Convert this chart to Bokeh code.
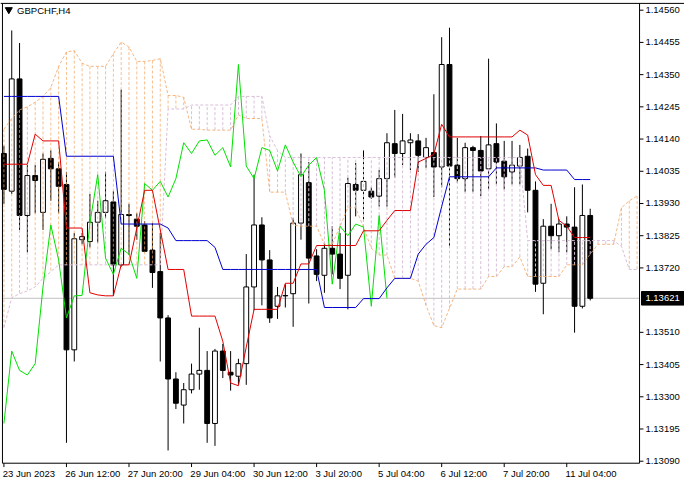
from bokeh.plotting import figure
from bokeh.models import ColumnDataSource, Range1d
from bokeh.core.properties import value
from bokeh.embed import file_html
from bokeh.resources import INLINE

symbol = "GBPCHF,H4"
time_labels = {0: "23 Jun 2023", 8: "26 Jun 12:00", 16: "27 Jun 20:00", 24: "29 Jun 04:00",
               32: "30 Jun 12:00", 40: "3 Jul 20:00", 48: "5 Jul 04:00", 56: "6 Jul 12:00",
               64: "7 Jul 20:00", 72: "11 Jul 04:00"}
price_ticks = [1.13090, 1.13195, 1.13300, 1.13405, 1.13510, 1.13720, 1.13825, 1.13930,
               1.14035, 1.14140, 1.14245, 1.14350, 1.14455, 1.14560]

opens = [1.14093, 1.13970, 1.14336, 1.13891, 1.14021, 1.13901, 1.14077, 1.14043, 1.13992, 1.13453,
         1.13812, 1.13806, 1.13869, 1.13901, 1.13935, 1.13730, 1.13894, 1.13879, 1.13860, 1.13778,
         1.13708, 1.13557, 1.13358, 1.13273, 1.13323, 1.13374, 1.13386, 1.13213, 1.13449, 1.13380,
         1.13367, 1.13408, 1.13658, 1.13860, 1.13746, 1.13595, 1.13629, 1.13636, 1.13866, 1.13998,
         1.13759, 1.13696, 1.13784, 1.13765, 1.13696, 1.13992, 1.13973, 1.13970, 1.13954, 1.14011,
         1.14125, 1.14093, 1.14128, 1.14134, 1.14080, 1.14096, 1.14049, 1.14383, 1.14055, 1.14011,
         1.14112, 1.14103, 1.14043, 1.14125, 1.14068, 1.14033, 1.14052, 1.14084, 1.13973, 1.13670,
         1.13856, 1.13825, 1.13863, 1.13853, 1.13595, 1.13891]
highs = [1.14118, 1.14494, 1.14453, 1.14055, 1.14055, 1.14093, 1.14103, 1.14065, 1.14033, 1.13834,
         1.13834, 1.13961, 1.13939, 1.14033, 1.13970, 1.14301, 1.13929, 1.13898, 1.13872, 1.13866,
         1.13834, 1.13566, 1.13380, 1.13345, 1.13408, 1.13525, 1.13449, 1.13456, 1.13472, 1.13449,
         1.13424, 1.13765, 1.14024, 1.13885, 1.13778, 1.13658, 1.13667, 1.13882, 1.14093, 1.14065,
         1.13781, 1.13803, 1.13856, 1.13834, 1.14014, 1.14062, 1.14103, 1.13983, 1.14039, 1.14159,
         1.14235, 1.14222, 1.14159, 1.14156, 1.14144, 1.14286, 1.14472, 1.14503, 1.14144, 1.14128,
         1.14118, 1.14150, 1.14402, 1.14191, 1.14134, 1.14134, 1.14121, 1.14109, 1.14002, 1.13879,
         1.13929, 1.13879, 1.13888, 1.13983, 1.13992, 1.13913]
lows = [1.13929, 1.13961, 1.13844, 1.13771, 1.13898, 1.13844, 1.13939, 1.13898, 1.13150, 1.13415,
        1.13797, 1.13787, 1.13803, 1.13882, 1.13629, 1.13724, 1.13762, 1.13812, 1.13771, 1.13655,
        1.13415, 1.13125, 1.13260, 1.13213, 1.13311, 1.13323, 1.13150, 1.13140, 1.13361, 1.13320,
        1.13339, 1.13339, 1.13582, 1.13598, 1.13541, 1.13554, 1.13591, 1.13528, 1.13812, 1.13604,
        1.13677, 1.13639, 1.13699, 1.13651, 1.13585, 1.13888, 1.13875, 1.13945, 1.13920, 1.13920,
        1.14014, 1.14055, 1.14039, 1.14033, 1.14046, 1.13951, 1.13983, 1.13787, 1.13998, 1.13967,
        1.13967, 1.13954, 1.13976, 1.13992, 1.13976, 1.13992, 1.13992, 1.13901, 1.13642, 1.13569,
        1.13781, 1.13771, 1.13771, 1.13509, 1.13588, 1.13614]
closes = [1.13976, 1.14336, 1.13891, 1.14021, 1.14005, 1.14074, 1.14043, 1.13986, 1.13453, 1.13815,
          1.13822, 1.13869, 1.13901, 1.13939, 1.13730, 1.13894, 1.13891, 1.13856, 1.13774, 1.13705,
          1.13557, 1.13358, 1.13279, 1.13323, 1.13374, 1.13386, 1.13213, 1.13449, 1.13386, 1.13371,
          1.13408, 1.13658, 1.13860, 1.13746, 1.13557, 1.13629, 1.13630, 1.13866, 1.14024, 1.13752,
          1.13699, 1.13784, 1.13765, 1.13686, 1.13995, 1.13973, 1.14002, 1.13951, 1.14011, 1.14128,
          1.14093, 1.14134, 1.14137, 1.14087, 1.14112, 1.14049, 1.14383, 1.14052, 1.14011, 1.14112,
          1.14103, 1.14036, 1.14121, 1.14065, 1.14017, 1.14055, 1.14080, 1.13973, 1.13667, 1.13856,
          1.13825, 1.13863, 1.13853, 1.13595, 1.13891, 1.13621]

tenkan = [1.14058, 1.14058, 1.14058, 1.14058, 1.14156, 1.14134, 1.14134, 1.14134, 1.13850, 1.13850,
          1.13850, 1.13639, 1.13632, 1.13629, 1.13629, 1.13730, 1.13730, 1.13850, 1.13973, 1.13973,
          1.13844, 1.13715, 1.13715, 1.13715, 1.13563, 1.13563, 1.13563, 1.13563, 1.13481, 1.13345,
          1.13336, 1.13462, 1.13585, 1.13585, 1.13585, 1.13585, 1.13670, 1.13670, 1.13733, 1.13733,
          1.13793, 1.13793, 1.13793, 1.13793, 1.13793, 1.13793, 1.13841, 1.13841, 1.13841, 1.13875,
          1.13907, 1.13907, 1.13907, 1.14065, 1.14077, 1.14090, 1.14188, 1.14147, 1.14147, 1.14147,
          1.14147, 1.14147, 1.14147, 1.14147, 1.14147, 1.14147, 1.14169, 1.14153, 1.14024, 1.13989,
          1.13989, 1.13875, 1.13856, 1.13819, 1.13819, 1.13819]
kijun = [1.14279, 1.14279, 1.14279, 1.14279, 1.14279, 1.14279, 1.14279, 1.14279, 1.14084, 1.14084,
         1.14084, 1.14084, 1.14084, 1.14084, 1.14084, 1.13863, 1.13863, 1.13863, 1.13863, 1.13863,
         1.13863, 1.13850, 1.13809, 1.13809, 1.13809, 1.13809, 1.13809, 1.13787, 1.13715, 1.13715,
         1.13715, 1.13715, 1.13715, 1.13715, 1.13715, 1.13715, 1.13715, 1.13715, 1.13715, 1.13715,
         1.13715, 1.13591, 1.13591, 1.13591, 1.13591, 1.13591, 1.13620, 1.13620, 1.13620, 1.13655,
         1.13686, 1.13686, 1.13686, 1.13765, 1.13797, 1.13819, 1.13920, 1.14017, 1.14017, 1.14017,
         1.14017, 1.14017, 1.14017, 1.14046, 1.14046, 1.14046, 1.14046, 1.14046, 1.14046, 1.14039,
         1.14039, 1.14039, 1.14039, 1.14008, 1.14008, 1.14008]
senkou_a = [1.14172, 1.14207, 1.14235, 1.14245, 1.14260, 1.14279, 1.14308, 1.14377, 1.14424, 1.14428,
            1.14387, 1.14377, 1.14377, 1.14377, 1.14418, 1.14456, 1.14440, 1.14393, 1.14393, 1.14396,
            1.14402, 1.14282, 1.14282, 1.14276, 1.14172, 1.14172, 1.14169, 1.14169, 1.14169, 1.14169,
            1.14219, 1.14207, 1.14207, 1.14207, 1.13967, 1.13967, 1.13967, 1.13860, 1.13856, 1.13856,
            1.13856, 1.13797, 1.13797, 1.13856, 1.13916, 1.13916, 1.13853, 1.13784, 1.13762, 1.13762,
            1.13686, 1.13686, 1.13686, 1.13677, 1.13598, 1.13532, 1.13525, 1.13588, 1.13651, 1.13651,
            1.13651, 1.13651, 1.13692, 1.13692, 1.13724, 1.13724, 1.13756, 1.13692, 1.13692, 1.13692,
            1.13692, 1.13692, 1.13730, 1.13730, 1.13730, 1.13765, 1.13797, 1.13797, 1.13797, 1.13916,
            1.13939, 1.13954]
senkou_b = [1.13525, 1.13623, 1.13636, 1.13645, 1.13658, 1.13686, 1.13708, 1.13730, 1.13730, 1.13730,
            1.13730, 1.13730, 1.13730, 1.13730, 1.13730, 1.13730, 1.13730, 1.13730, 1.13730, 1.13730,
            1.13730, 1.14238, 1.14238, 1.14238, 1.14251, 1.14251, 1.14251, 1.14251, 1.14251, 1.14251,
            1.14279, 1.14279, 1.14279, 1.14279, 1.14150, 1.14103, 1.14080, 1.14080, 1.14080, 1.14080,
            1.14080, 1.14080, 1.14080, 1.14080, 1.14080, 1.14080, 1.14080, 1.14080, 1.14080, 1.14080,
            1.14080, 1.14080, 1.14080, 1.14080, 1.14080, 1.14080, 1.14080, 1.14080, 1.14080, 1.14080,
            1.14080, 1.14080, 1.14080, 1.14080, 1.14080, 1.14080, 1.14080, 1.13809, 1.13809, 1.13809,
            1.13809, 1.13809, 1.13809, 1.13809, 1.13809, 1.13809, 1.13809, 1.13809, 1.13809, 1.13790,
            1.13715, 1.13715]
chikou_shift = 26

# ---- layout helpers (terminal layout: 700x500 design grid, 8 px per bar) ----
X0 = -0.4375          # bar-index at left edge of the design grid
Y0 = 1.145916         # price at top edge of the design grid
PPX = 0.00003155      # price per design pixel


def rx(px):
    return X0 + px / 8.0


def ry(py):
    return Y0 - py * PPX


FONT = "Liberation Sans"
FS = "9.5px"

n = len(opens)
bars = list(range(n))
candles = ColumnDataSource(dict(
    x=bars, open=opens, high=highs, low=lows, close=closes,
    fill=["white" if c >= o else "black" for o, c in zip(opens, closes)],
))
cloud_x = list(range(len(senkou_a)))
cloud = ColumnDataSource(dict(
    x=cloud_x, a=senkou_a, b=senkou_b,
    color=["#F4A460" if a >= b else "#D8BFD8" for a, b in zip(senkou_a, senkou_b)],
    alpha=[0.7 if a >= b else 1.0 for a, b in zip(senkou_a, senkou_b)],
))

p = figure(width=684, height=484, output_backend="svg", toolbar_location=None,
           x_range=Range1d(rx(0), rx(700)), y_range=Range1d(ry(500), ry(0)),
           x_axis_location=None, y_axis_location=None,
           min_border_left=0, min_border_right=0, min_border_top=0, min_border_bottom=0)
p.background_fill_color = "white"
p.border_fill_color = "white"
p.outline_line_color = None
p.xgrid.visible = False
p.ygrid.visible = False

left_x, axis_x = rx(2), rx(654)
top_y, bottom_y = ry(3), ry(478)

# bid line
p.segment(x0=[left_x], y0=[closes[-1]], x1=[axis_x], y1=[closes[-1]],
          line_color="#C0C0C0", line_width=1)

# candles
p.segment(x0="x", y0="low", x1="x", y1="high", line_color="black", line_width=1, source=candles)
p.vbar(x="x", width=0.62, top="open", bottom="close", fill_color="fill",
       line_color="black", line_width=1, source=candles)

# cloud: dotted histogram between the spans, plus the span lines
p.segment(x0="x", y0="a", x1="x", y1="b", line_color="color", line_alpha="alpha",
          line_width=1, line_dash="3 2", source=cloud)
p.line(cloud_x, senkou_a, line_color="#F4A460", line_alpha=0.8, line_width=1, line_dash="3 2")
p.line(cloud_x, senkou_b, line_color="#D8BFD8", line_width=1, line_dash="3 2")

# Ichimoku lines
p.line(bars[:n - chikou_shift], closes[chikou_shift:], line_color="#00E000", line_width=1)
p.line(bars, kijun, line_color="#0000D0", line_width=1)
p.line(bars, tenkan, line_color="#E00000", line_width=1)

# frame
p.segment(x0=[rx(0), left_x, left_x, axis_x],
          y0=[top_y, top_y, bottom_y, top_y],
          x1=[rx(700), left_x, axis_x, axis_x],
          y1=[top_y, bottom_y, bottom_y, bottom_y],
          line_color="black", line_width=1)

# price scale (right)
p.segment(x0=[axis_x] * len(price_ticks), y0=price_ticks,
          x1=[rx(658)] * len(price_ticks), y1=price_ticks, line_color="black", line_width=1)
p.text(x=[rx(660)] * len(price_ticks), y=price_ticks, text=[f"{t:.5f}" for t in price_ticks],
       text_font=value(FONT), text_font_size=FS, text_align="left", text_baseline="middle",
       text_color="black")

# current price box
p.quad(left=[rx(656)], right=[rx(700)], top=[closes[-1] + 7 * PPX], bottom=[closes[-1] - 7 * PPX],
       fill_color="black", line_color="black")
p.text(x=[rx(660)], y=[closes[-1]], text=[f"{closes[-1]:.5f}"],
       text_font=value(FONT), text_font_size=FS, text_align="left", text_baseline="middle",
       text_color="white")

# time scale (bottom)
tick_bars = list(time_labels.keys())
p.segment(x0=tick_bars, y0=[bottom_y] * len(tick_bars), x1=tick_bars,
          y1=[ry(482)] * len(tick_bars), line_color="black", line_width=1)
p.text(x=[b - 0.15 for b in tick_bars], y=[ry(489)] * len(tick_bars),
       text=list(time_labels.values()), text_font=value(FONT), text_font_size=FS,
       text_align="left", text_baseline="middle", text_color="black")

# header
p.scatter(x=[rx(8.5)], y=[ry(9.5)], marker="inverted_triangle", size=7,
          fill_color="black", line_color="black")
p.text(x=[rx(17)], y=[ry(10)], text=[symbol], text_font=value(FONT), text_font_size=FS,
       text_align="left", text_baseline="middle", text_color="black")

open("out.html", "w").write(file_html(p, INLINE))
